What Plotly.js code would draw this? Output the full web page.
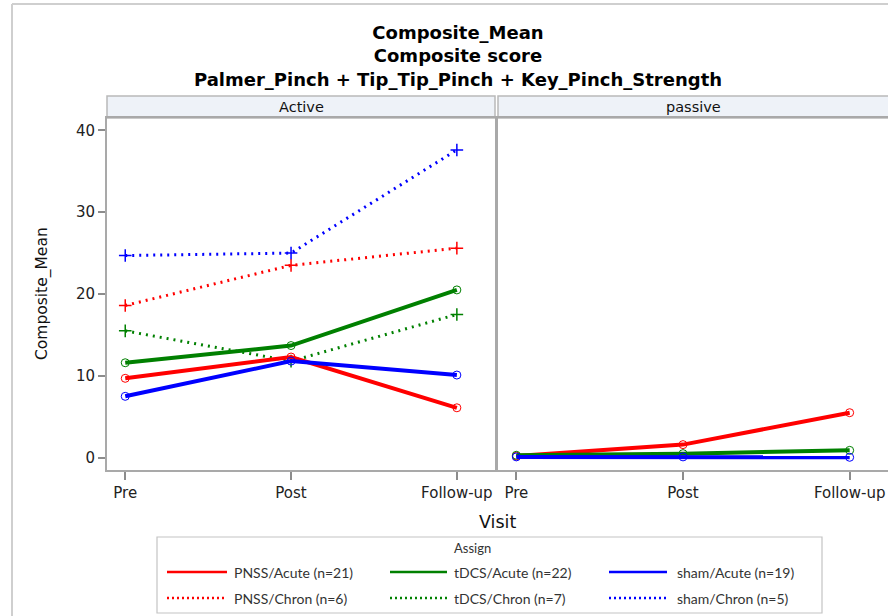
<!DOCTYPE html>
<html>
<head>
<meta charset="utf-8">
<script src="https://cdn.plot.ly/plotly-3.0.1.min.js"></script>
<style>
html,body{margin:0;padding:0;background:#fff;}
#chart{width:888px;height:616px;}
</style>
</head>
<body>
<div id="chart"></div>
<script>
// ---- Data ----
const visits = ['Pre', 'Post', 'Follow-up'];
const panels = ['Active', 'passive'];

// Active panel
const pnssAcuteActive = [9.7, 12.3, 6.1];
const tdcsAcuteActive = [11.6, 13.7, 20.5];
const shamAcuteActive = [7.5, 11.8, 10.1];
const pnssChronActive = [18.6, 23.5, 25.6];
const tdcsChronActive = [15.5, 11.8, 17.5];
const shamChronActive = [24.7, 25.0, 37.6];

// passive panel
const pnssAcutePassive = [0.2, 1.6, 5.5];
const tdcsAcutePassive = [0.3, 0.5, 0.9];
const shamAcutePassive = [0.1, 0.1, 0.05];

const legendTitle = 'Assign';
const groupNames = ['PNSS/Acute (n=21)', 'tDCS/Acute (n=22)', 'sham/Acute (n=19)',
                    'PNSS/Chron (n=6)', 'tDCS/Chron (n=7)', 'sham/Chron (n=5)'];

const RED = '#ff0000', GREEN = '#008000', BLUE = '#0000ff';
const colors = [RED, GREEN, BLUE, RED, GREEN, BLUE];

const activeSeries = [pnssAcuteActive, tdcsAcuteActive, shamAcuteActive,
                      pnssChronActive, tdcsChronActive, shamChronActive];
const passiveSeries = [pnssAcutePassive, tdcsAcutePassive, shamAcutePassive];

function mkTrace(y, i, xa, ya) {
  const chron = i >= 3;
  return {
    type: 'scatter', mode: 'lines+markers',
    x: visits, y: y, xaxis: xa, yaxis: ya,
    name: groupNames[i], showlegend: false,
    line: chron ? {color: colors[i], width: 3, dash: '2px,5px'} : {color: colors[i], width: 4},
    marker: chron ? {symbol: 'cross-thin-open', size: 9, line: {color: colors[i], width: 1.5}}
                  : {symbol: 'circle-open', size: 8, color: colors[i], line: {color: colors[i], width: 1}},
    hoverinfo: 'x+y+name'
  };
}

const traces = [];
[3,4,5,0,1,2].forEach(i => traces.push(mkTrace(activeSeries[i], i, 'x', 'y')));
[0,1,2].forEach(i => traces.push(mkTrace(passiveSeries[i], i, 'x2', 'y2')));

// ---- Geometry (pixels) ----
const W = 888, H = 616;
const mL = 107, mR = 0, mT = 118, mB = 146;
const plotW = W - mL - mR, plotH = H - mT - mB;
const px2x = p => (p - mL) / plotW;
const py2y = p => (H - mB - p) / plotH;

const leftDom = [0, px2x(495)];
const rightDom = [px2x(498), 1];

const FONT = 'DejaVu Sans';
const axisLine = '#a9a9a9';

const xCommon = {
  type: 'category', range: [-0.11, 2.23], autorange: false,
  showline: true, mirror: true, linecolor: axisLine, linewidth: 2,
  ticks: 'outside', ticklen: 8, tickwidth: 1.5, tickcolor: '#8c8c8c',
  tickfont: {family: FONT, size: 15, color: '#222'},
  showgrid: false, zeroline: false, fixedrange: true
};
const yCommon = {
  range: [-1.5, 41.5], autorange: false, dtick: 10, tick0: 0,
  showline: true, mirror: true, linecolor: axisLine, linewidth: 2,
  showgrid: false, zeroline: false, fixedrange: true
};

const headerY0 = py2y(118), headerY1 = py2y(96);
const shapes = [
  // outer frame (top and left)
  {type: 'line', xref: 'paper', yref: 'paper', x0: px2x(12), x1: px2x(890), y0: py2y(4), y1: py2y(4),
   line: {color: '#cfcfcf', width: 2}},
  {type: 'line', xref: 'paper', yref: 'paper', x0: px2x(12), x1: px2x(12), y0: py2y(4), y1: py2y(620),
   line: {color: '#cfcfcf', width: 2}},
  // panel headers
  {type: 'rect', xref: 'paper', yref: 'paper', x0: leftDom[0], x1: leftDom[1], y0: headerY0, y1: headerY1,
   fillcolor: '#eef2f8', line: {color: '#b9b9b9', width: 1.5}, layer: 'below'},
  {type: 'rect', xref: 'paper', yref: 'paper', x0: rightDom[0], x1: px2x(892), y0: headerY0, y1: headerY1,
   fillcolor: '#eef2f8', line: {color: '#b9b9b9', width: 1.5}, layer: 'below'},
  // legend box
  {type: 'rect', xref: 'paper', yref: 'paper', x0: px2x(157), x1: px2x(822), y0: py2y(613), y1: py2y(537),
   fillcolor: '#ffffff', line: {color: '#c4c4c4', width: 1.2}}
];

const annotations = [
  {text: panels[0], xref: 'paper', yref: 'paper', x: (leftDom[0] + leftDom[1]) / 2, y: (headerY0 + headerY1) / 2,
   xanchor: 'center', yanchor: 'middle', showarrow: false, font: {family: FONT, size: 14.5, color: '#111'}},
  {text: panels[1], xref: 'paper', yref: 'paper', x: (rightDom[0] + px2x(888)) / 2, y: (headerY0 + headerY1) / 2,
   xanchor: 'center', yanchor: 'middle', showarrow: false, font: {family: FONT, size: 14.5, color: '#111'}},
  {text: 'Visit', xref: 'paper', yref: 'paper', x: px2x(497), y: py2y(522),
   xanchor: 'center', yanchor: 'middle', showarrow: false, font: {family: FONT, size: 17.5, color: '#111'}},
  {text: 'Composite_Mean', xref: 'paper', yref: 'paper', x: px2x(42), y: py2y(294), textangle: -90,
   xanchor: 'center', yanchor: 'middle', showarrow: false, font: {family: FONT, size: 15.5, color: '#111'}},
  {text: legendTitle, xref: 'paper', yref: 'paper', x: px2x(472), y: py2y(548),
   xanchor: 'center', yanchor: 'middle', showarrow: false, font: {family: 'Lato', size: 13, color: '#333'}}
];

// custom legend: 2 rows x 3 columns (line sample + label)
const legLineX0 = [167, 390, 609], legLineX1 = [227, 447, 667], legTextX = [232, 452, 675];
const legRowY = [572, 598];
groupNames.forEach((nm, i) => {
  const col = i % 3, row = Math.floor(i / 3);
  const chron = i >= 3;
  shapes.push({type: 'line', xref: 'paper', yref: 'paper',
    x0: px2x(legLineX0[col]), x1: px2x(legLineX1[col]), y0: py2y(legRowY[row]), y1: py2y(legRowY[row]),
    line: chron ? {color: colors[i], width: 2.5, dash: '2px,3px'} : {color: colors[i], width: 2.5}});
  annotations.push({text: nm, xref: 'paper', yref: 'paper', x: px2x(legTextX[col]), y: py2y(legRowY[row]),
    xanchor: 'left', yanchor: 'middle', showarrow: false, font: {family: 'Lato', size: 14, color: '#333'}});
});

const layout = {
  width: W, height: H,
  margin: {l: mL, r: mR, t: mT, b: mB, pad: 0},
  paper_bgcolor: '#ffffff', plot_bgcolor: '#ffffff',
  font: {family: FONT, color: '#111'},
  title: {
    text: '<b>Composite_Mean</b><br><b>Composite score</b><br><b>Palmer_Pinch + Tip_Tip_Pinch + Key_Pinch_Strength</b>',
    xref: 'container', x: 458 / W, xanchor: 'center',
    yref: 'container', y: 1 - 39 / H, yanchor: 'top',
    font: {family: FONT, size: 18, color: '#000'}
  },
  xaxis: Object.assign({}, xCommon, {domain: leftDom, anchor: 'y'}),
  xaxis2: Object.assign({}, xCommon, {domain: rightDom, anchor: 'y2'}),
  yaxis: Object.assign({}, yCommon, {anchor: 'x', ticks: 'outside', ticklen: 7, tickwidth: 1.5, tickcolor: '#8c8c8c',
    tickfont: {family: FONT, size: 15, color: '#222'}}),
  yaxis2: Object.assign({}, yCommon, {anchor: 'x2', matches: 'y', showticklabels: false, ticks: ''}),
  showlegend: false,
  shapes: shapes,
  annotations: annotations,
  hovermode: 'closest'
};

Plotly.newPlot('chart', traces, layout, {displayModeBar: false, responsive: false});
</script>
</body>
</html>
